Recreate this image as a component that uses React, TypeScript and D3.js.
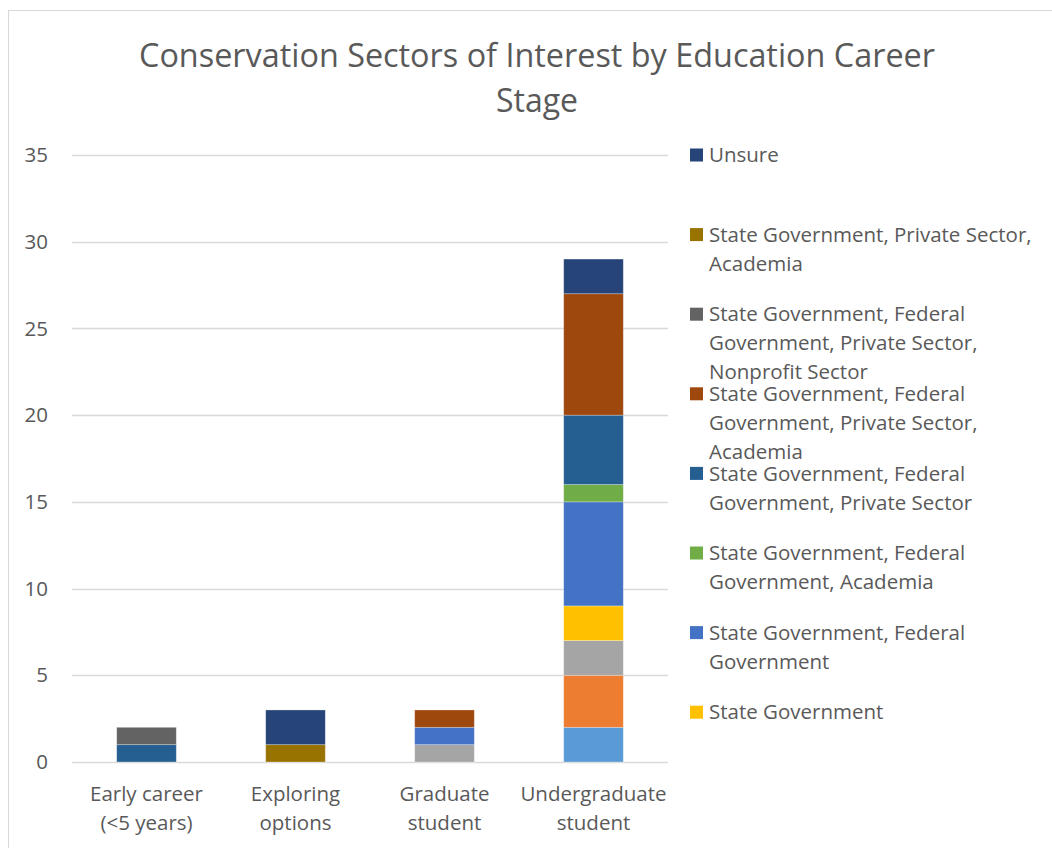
import React from "react";
import * as d3 from "d3";

const categories = ["Early career (<5 years)", "Exploring options", "Graduate student", "Undergraduate student"];
const categoryLines = [["Early career", "(<5 years)"], ["Exploring", "options"], ["Graduate", "student"], ["Undergraduate", "student"]];

// series, bottom to top of the stack
const seriesNames = [
  "Academia",
  "Federal Government",
  "Private Sector",
  "State Government",
  "State Government, Federal Government",
  "State Government, Federal Government, Academia",
  "State Government, Federal Government, Private Sector",
  "State Government, Federal Government, Private Sector, Academia",
  "State Government, Federal Government, Private Sector, Nonprofit Sector",
  "State Government, Private Sector, Academia",
  "Unsure",
];
const seriesColors = ["#5B9BD5", "#ED7D31", "#A5A5A5", "#FFC000", "#4472C4", "#70AD47", "#255E91", "#9E480E", "#636363", "#997300", "#264478"];
const s1 = [0, 0, 0, 2];
const s2 = [0, 0, 0, 3];
const s3 = [0, 0, 1, 2];
const s4 = [0, 0, 0, 2];
const s5 = [0, 0, 1, 6];
const s6 = [0, 0, 0, 1];
const s7 = [1, 0, 0, 4];
const s8 = [0, 0, 1, 7];
const s9 = [1, 0, 0, 0];
const s10 = [0, 1, 0, 0];
const s11 = [0, 2, 0, 2];
const seriesValues = [s1, s2, s3, s4, s5, s6, s7, s8, s9, s10, s11];
const yTicks = [0, 5, 10, 15, 20, 25, 30, 35];

// legend entries shown (top to bottom) with their wrapped lines
const legendLines: string[][] = [
  ["Unsure"],
  ["State Government, Private Sector,", "Academia"],
  ["State Government, Federal", "Government, Private Sector,", "Nonprofit Sector"],
  ["State Government, Federal", "Government, Private Sector,", "Academia"],
  ["State Government, Federal", "Government, Private Sector"],
  ["State Government, Federal", "Government, Academia"],
  ["State Government, Federal", "Government"],
  ["State Government"],
];
const legendSeries = [10, 9, 8, 7, 6, 5, 4, 3];

const FONT = "'Open Sans', Lato, sans-serif";
const TXT = "#595959";

export default function App() {
  const W = 1052, H = 848;
  const left = 72, right = 668, top = 155, bottom = 762;
  const x = d3.scaleBand<string>().domain(categories).range([left, right]).paddingInner(0.6).paddingOuter(0.3);
  const y = d3.scaleLinear().domain([0, 35]).range([bottom, top]);

  const rows = categories.map((c, i) => {
    const r: any = { cat: c };
    seriesNames.forEach((s, j) => (r[s] = seriesValues[j][i]));
    return r;
  });
  const stacked = d3.stack<any>().keys(seriesNames)(rows);

  const legendTop = 155, legendStep = 79.6, lineH = 29;
  const FS = 20.5;

  return (
    <svg width={W} height={H} style={{ position: "absolute", left: 0, top: 0 }} fontFamily={FONT}>
      <rect x={0} y={0} width={W} height={H} fill="#fff" />
      <rect x={8.5} y={10.5} width={W + 20} height={H + 20} fill="#fff" stroke="#d9d9d9" strokeWidth={1} />
      <text x={537} y={67} textAnchor="middle" fontSize={32} fill={TXT} textLength={796} lengthAdjust="spacingAndGlyphs">Conservation Sectors of Interest by Education Career</text>
      <text x={537} y={112} textAnchor="middle" fontSize={32} fill={TXT}>Stage</text>
      {yTicks.map((t) => (
        <g key={t}>
          <line x1={left} x2={right} y1={Math.round(y(t)) + 0.5} y2={Math.round(y(t)) + 0.5} stroke="#d9d9d9" strokeWidth={1.3} />
          <text x={48} y={y(t)} dy="0.35em" textAnchor="end" fontSize={FS} fill={TXT}>{t}</text>
        </g>
      ))}
      {stacked.map((layer, j) =>
        layer.map((d, i) =>
          d[1] - d[0] > 0 ? (
            <rect key={j + "-" + i} x={x(categories[i])!} width={x.bandwidth()} y={y(d[1])} height={y(d[0]) - y(d[1])}
              fill={seriesColors[j]} stroke="#ffffff" strokeOpacity={0.35} strokeWidth={0.8} />
          ) : null
        )
      )}
      {categories.map((c, i) => (
        <text key={c} x={x(c)! + x.bandwidth() / 2} textAnchor="middle" fontSize={FS} fill={TXT}>
          {categoryLines[i].map((l, k) => (
            <tspan key={k} x={x(c)! + x.bandwidth() / 2} y={801 + k * 29}>{l}</tspan>
          ))}
        </text>
      ))}
      {legendLines.map((lines, e) => {
        const cy = legendTop + e * legendStep;
        return (
          <g key={e}>
            <rect x={690} y={cy - 6.5} width={13} height={13} fill={seriesColors[legendSeries[e]]} />
            {lines.map((l, k) => (
              <text key={k} x={709} y={cy + k * lineH} dy="0.35em" fontSize={FS} fill={TXT}>{l}</text>
            ))}
          </g>
        );
      })}
    </svg>
  );
}
